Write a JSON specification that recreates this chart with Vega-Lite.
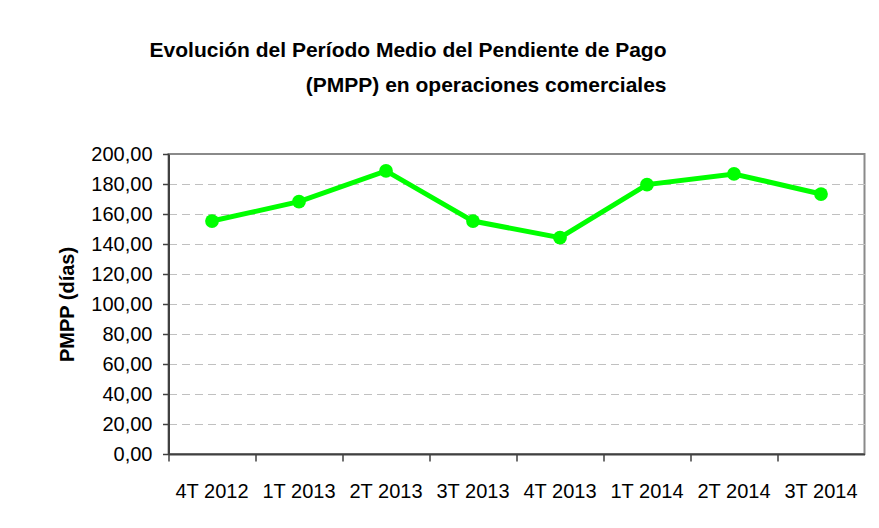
{
  "$schema": "https://vega.github.io/schema/vega-lite/v6.json",
  "width": 696,
  "height": 300,
  "autosize": {"type": "none"},
  "padding": {"left": 168.5, "top": 154, "right": 14.5, "bottom": 74},
  "background": "white",
  "config": {
    "font": "Liberation Sans",
    "locale": {"number": {"decimal": ",", "thousands": ".", "grouping": [3], "currency": ["", " €"]}},
    "view": {"stroke": "#8a8a8a", "strokeWidth": 2}
  },
  "title": {
    "text": ["Evolución del Período Medio del Pendiente de Pago", "(PMPP) en operaciones comerciales"],
    "anchor": "end",
    "frame": "group",
    "dx": -198,
    "offset": 48,
    "fontSize": 21,
    "fontWeight": "bold",
    "color": "black",
    "lineHeight": 35
  },
  "data": {
    "values": [
      {"trimestre": "4T 2012", "pmpp": 155.3},
      {"trimestre": "1T 2013", "pmpp": 168.2},
      {"trimestre": "2T 2013", "pmpp": 188.7},
      {"trimestre": "3T 2013", "pmpp": 155.3},
      {"trimestre": "4T 2013", "pmpp": 144.2},
      {"trimestre": "1T 2014", "pmpp": 179.6},
      {"trimestre": "2T 2014", "pmpp": 186.7},
      {"trimestre": "3T 2014", "pmpp": 173.3}
    ]
  },
  "encoding": {
    "y": {
      "field": "pmpp",
      "type": "quantitative",
      "scale": {"domain": [0, 200], "nice": false, "zero": true},
      "axis": {
        "values": [0, 20, 40, 60, 80, 100, 120, 140, 160, 180, 200],
        "format": ".2f",
        "labelFontSize": 20,
        "labelColor": "black",
        "labelPadding": 10.5,
        "tickSize": 6,
        "tickColor": "#404040",
        "tickWidth": 1.5,
        "domainColor": "#404040",
        "domainWidth": 2,
        "gridColor": "#c0c0c0",
        "gridDash": [8, 5],
        "gridWidth": 1,
        "gridOpacity": {"condition": {"test": "datum.value == 0 || datum.value == 200", "value": 0}, "value": 1},
        "title": "PMPP (días)",
        "titleFontSize": 20,
        "titleFontWeight": "bold",
        "titleColor": "black",
        "titlePadding": 13
      }
    }
  },
  "layer": [
    {
      "mark": {"type": "line", "color": "#00ff00", "strokeWidth": 5},
      "encoding": {
        "x": {
          "field": "trimestre",
          "type": "ordinal",
          "sort": null,
          "scale": {"type": "band", "paddingInner": 0, "paddingOuter": 0},
          "axis": {
            "orient": "bottom",
            "labels": false,
            "bandPosition": 0,
            "tickSize": 7,
            "tickColor": "#404040",
            "tickWidth": 1.5,
            "domainColor": "#404040",
            "domainWidth": 2,
            "grid": false,
            "title": null
          }
        }
      }
    },
    {
      "mark": {"type": "point", "filled": true, "color": "#00ff00", "opacity": 1, "size": 190},
      "encoding": {
        "x": {
          "field": "trimestre",
          "type": "ordinal",
          "sort": null,
          "scale": {"type": "band", "paddingInner": 0, "paddingOuter": 0},
          "axis": {
            "orient": "bottom",
            "ticks": false,
            "tickSize": 0,
            "domain": false,
            "labelAngle": 0,
            "labelFontSize": 20,
            "labelColor": "black",
            "labelPadding": 27,
            "grid": false,
            "title": null
          }
        }
      }
    }
  ],
  "resolve": {"axis": {"x": "independent"}}
}
